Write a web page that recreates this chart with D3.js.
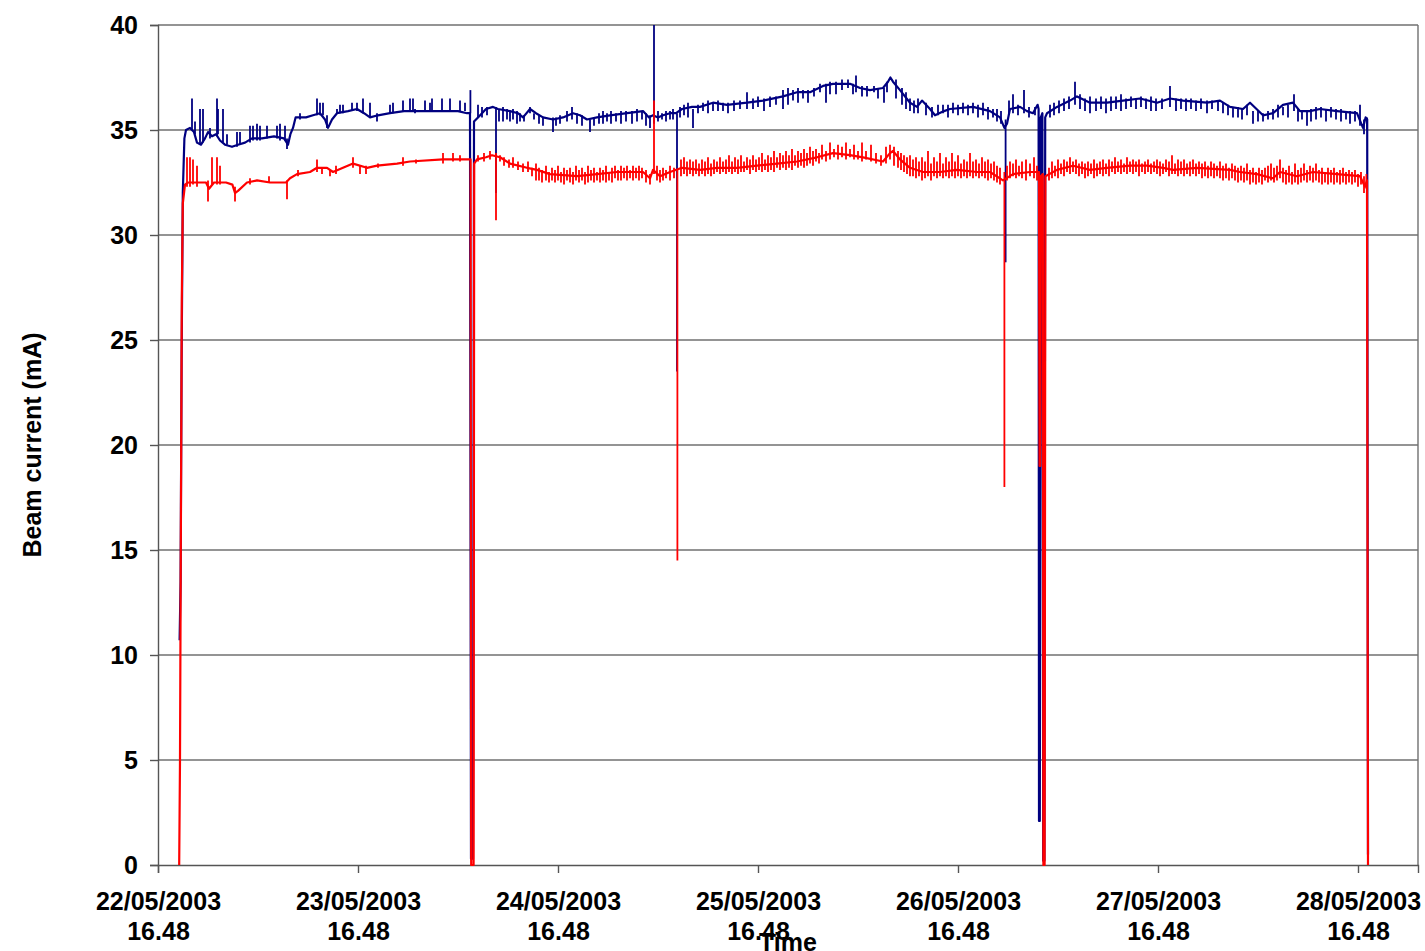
<!DOCTYPE html>
<html>
<head>
<meta charset="utf-8">
<script src="https://cdn.jsdelivr.net/npm/d3@7"></script>
<style>
  html, body { margin: 0; padding: 0; background: #fff; }
  svg text { font-family: "Liberation Sans", Arial, sans-serif; font-weight: bold; fill: #000; }
</style>
</head>
<body>
<svg id="chart" width="1425" height="951"></svg>
<script>
// Time origin of the run: 22/05/2003 16.48 (times below are elapsed days)
const runStart = Date.UTC(2003, 4, 22, 16, 48);
const runEnd = Date.UTC(2003, 4, 29, 0, 0);

const dayTicks = [0, 1, 2, 3, 4, 5, 6];
const currentTicks = [0, 5, 10, 15, 20, 25, 30, 35, 40];

// Blue trace: [elapsed day, current mA]
const blueBase = [
  [0.108,10.7],[0.113,13.5],[0.118,24],[0.124,32],[0.132,34.6],[0.140,35.0],[0.160,35.1],[0.180,34.9],
  [0.195,34.4],[0.215,34.3],[0.235,34.6],[0.250,34.9],[0.270,34.7],[0.290,34.8],[0.310,34.5],[0.335,34.3],
  [0.370,34.2],[0.400,34.3],[0.435,34.4],[0.470,34.6],[0.520,34.6],[0.580,34.7],[0.630,34.6],[0.650,34.3],
  [0.662,34.8],[0.675,35.1],[0.688,35.6],[0.740,35.6],[0.775,35.7],[0.810,35.8],[0.835,35.5],[0.850,35.1],
  [0.870,35.5],[0.895,35.8],[0.950,35.9],[0.995,36.0],[1.030,35.8],[1.060,35.6],[1.100,35.7],[1.160,35.8],
  [1.230,35.9],[1.320,35.9],[1.420,35.9],[1.500,35.9],[1.545,35.8],[1.560,35.8],[1.565,0.3],[1.575,0.3],
  [1.580,35.4],[1.600,35.6],[1.640,36.0],[1.675,36.1],[1.700,36.0],[1.760,35.9],[1.800,35.8],[1.825,35.6],
  [1.860,36.0],[1.890,35.8],[1.925,35.6],[1.975,35.5],[2.025,35.6],[2.075,35.8],[2.110,35.7],[2.145,35.5],
  [2.195,35.6],[2.260,35.7],[2.345,35.8],[2.425,35.9],[2.455,35.6],[2.475,35.7],[2.500,35.6],[2.525,35.7],
  [2.560,35.8],[2.590,35.8],[2.620,36.0],[2.670,36.1],[2.710,36.1],[2.775,36.3],[2.845,36.2],[2.945,36.3],
  [3.025,36.4],[3.125,36.6],[3.195,36.8],[3.260,36.8],[3.325,37.1],[3.375,37.2],[3.460,37.2],[3.510,37.0],
  [3.560,36.9],[3.625,37.0],[3.650,37.3],[3.662,37.5],[3.675,37.3],[3.710,36.9],[3.760,36.3],[3.795,36.1],
  [3.820,36.4],[3.860,36.0],[3.885,35.7],[3.930,35.9],[3.960,36.0],[4.075,36.1],[4.160,35.9],[4.210,35.6],
  [4.232,35.1],[4.245,35.3],[4.260,36.0],[4.310,36.1],[4.345,35.9],[4.375,35.8],[4.398,36.2],[4.403,36.0],
  [4.405,2.1],[4.409,2.1],[4.414,35.6],[4.422,35.8],[4.426,0.2],[4.432,0.2],[4.436,35.6],[4.445,35.8],
  [4.495,36.1],[4.560,36.4],[4.595,36.6],[4.660,36.3],[4.745,36.3],[4.825,36.4],[4.910,36.5],[4.995,36.3],
  [5.060,36.5],[5.125,36.4],[5.245,36.3],[5.310,36.4],[5.360,36.1],[5.425,36.0],[5.460,36.3],[5.525,35.7],
  [5.575,35.8],[5.625,36.2],[5.675,36.3],[5.710,35.9],[5.760,35.9],[5.810,36.0],[5.895,35.9],[5.995,35.8],
  [6.025,35.1],[6.038,35.6],[6.046,35.5],[6.050,0.5]
];

// Blue short excursions: [elapsed day, min mA, max mA]
const blueSpikes = [
  [0.170,35.0,36.5],[0.185,34.8,35.4],[0.210,34.3,36.0],[0.225,34.4,36.0],[0.260,34.6,35.1],[0.295,34.7,36.5],
  [0.300,34.8,36.0],[0.325,34.4,36.0],[0.345,34.3,34.8],[0.395,34.2,34.9],[0.410,34.3,34.9],[0.460,34.4,35.2],
  [0.475,34.5,35.2],[0.495,34.5,35.3],[0.510,34.5,35.2],[0.545,34.6,35.2],[0.595,34.6,35.2],[0.610,34.5,35.3],
  [0.635,34.5,35.2],[0.645,34.1,34.6],[0.710,35.5,35.8],[0.795,35.7,36.5],[0.810,35.7,36.3],[0.825,35.7,36.3],
  [0.845,35.1,35.7],[0.895,35.8,36.0],[0.910,35.8,36.2],[0.925,35.8,36.2],[0.970,35.9,36.3],[0.995,35.9,36.3],
  [1.025,35.8,36.5],[1.060,35.6,36.3],[1.095,35.4,35.8],[1.160,35.8,36.2],[1.175,35.8,36.3],[1.225,35.9,36.4],
  [1.260,35.9,36.5],[1.275,35.9,36.5],[1.285,35.8,36.0],[1.335,35.9,36.4],[1.360,35.9,36.3],[1.370,35.9,36.5],
  [1.420,35.9,36.5],[1.460,35.9,36.5],[1.510,35.9,36.4],[1.535,35.9,36.3],[1.562,35.8,36.9],
  [1.600,35.6,36.2],[1.620,35.6,36.1],[1.645,35.7,36.1],[1.690,32.0,36.1],[1.705,35.4,36.0],[1.725,35.4,36.1],
  [1.745,35.5,36.0],[1.760,35.4,35.9],[1.775,35.5,36.0],[1.795,35.3,35.9],[1.810,35.4,35.8],[1.830,35.4,35.7],
  [1.860,35.8,36.1],[1.880,35.5,35.8],[1.905,35.3,35.7],[1.925,35.2,35.6],[1.975,34.9,35.6],[1.990,35.2,35.6],
  [2.010,35.3,35.7],[2.045,35.4,35.9],[2.070,35.5,36.1],[2.095,35.3,35.8],[2.120,35.2,35.7],[2.160,34.9,35.5],
  [2.180,35.2,35.6],[2.205,35.3,35.8],[2.225,35.3,35.9],[2.245,35.4,35.8],[2.265,35.3,35.9],[2.290,35.4,35.8],
  [2.315,35.3,35.9],[2.340,35.4,35.9],[2.370,35.3,35.9],[2.395,35.4,36.0],[2.420,35.5,35.9],[2.440,35.2,35.8],
  [2.460,35.1,35.7],[2.480,35.3,40.0],[2.500,35.4,35.9],[2.520,35.5,35.8],[2.540,35.4,35.9],[2.560,35.5,35.9],
  [2.575,35.5,36.0],[2.595,23.5,35.8],[2.610,35.6,36.1],[2.630,35.7,36.2],[2.650,35.6,36.3],[2.675,35.1,36.0],
  [2.700,35.8,36.2],[2.725,35.9,36.3],[2.750,35.8,36.4],[2.775,35.9,36.3],[2.800,35.9,36.4],[2.825,35.9,36.3],
  [2.850,35.8,36.3],[2.880,35.9,36.4],[2.910,36.0,36.4],[2.945,36.0,36.8],[2.975,36.0,36.5],[3.000,36.1,36.6],
  [3.030,35.9,36.5],[3.060,36.1,36.6],[3.090,36.2,36.6],[3.125,36.0,36.9],[3.150,36.2,37.0],[3.175,36.4,36.9],
  [3.200,36.3,37.0],[3.225,36.5,36.9],[3.250,36.3,36.9],[3.280,36.6,37.0],[3.310,36.8,37.2],[3.340,36.3,37.2],
  [3.360,36.7,37.3],[3.390,36.7,37.3],[3.420,36.9,37.4],[3.450,37.0,37.4],[3.475,36.7,37.2],[3.490,36.8,37.6],
  [3.520,36.6,37.1],[3.545,36.6,37.1],[3.580,36.8,37.1],[3.600,36.5,37.0],[3.630,36.3,37.0],[3.645,36.8,37.3],
  [3.690,36.5,37.4],[3.720,36.2,37.0],[3.740,36.0,36.8],[3.760,35.9,36.5],[3.780,35.8,36.4],[3.800,35.8,36.5],
  [3.840,35.7,36.3],[3.870,35.6,36.1],[3.900,35.7,36.2],[3.925,35.8,36.2],[3.950,35.6,36.2],[3.975,35.8,36.3],
  [4.000,35.7,36.2],[4.025,35.8,36.3],[4.050,35.7,36.2],[4.075,35.8,36.3],[4.100,35.6,36.2],[4.125,35.7,36.3],
  [4.150,35.5,36.1],[4.175,35.6,36.0],[4.195,35.4,36.0],[4.215,35.3,35.9],[4.238,28.7,35.5],[4.255,35.8,36.4],
  [4.275,35.8,36.7],[4.300,35.7,36.2],[4.330,35.8,36.9],[4.355,35.6,36.1],[4.385,35.7,36.1],
  [4.460,35.6,36.2],[4.480,35.7,36.3],[4.505,35.8,36.4],[4.530,35.9,36.5],[4.555,36.0,36.6],[4.585,36.2,37.3],
  [4.610,36.0,36.7],[4.635,35.9,36.5],[4.660,35.8,36.6],[4.690,35.9,36.5],[4.715,36.0,36.6],[4.740,35.8,36.5],
  [4.765,35.9,36.6],[4.790,36.0,36.6],[4.815,35.9,36.7],[4.840,36.0,36.5],[4.865,36.1,36.6],[4.890,36.0,36.5],
  [4.915,36.1,36.6],[4.940,36.0,36.5],[4.965,35.9,36.6],[4.990,35.9,36.5],[5.020,36.0,36.5],[5.060,36.1,37.1],
  [5.090,35.9,36.5],[5.115,36.0,36.5],[5.140,35.9,36.5],[5.165,36.0,36.5],[5.190,35.9,36.4],[5.215,36.0,36.5],
  [5.245,35.8,36.4],[5.270,36.0,36.4],[5.300,35.9,36.4],[5.325,35.8,36.3],[5.350,35.7,36.2],[5.375,35.6,36.1],
  [5.400,35.6,36.1],[5.420,35.5,36.0],[5.445,35.7,36.2],[5.475,35.3,35.9],[5.500,35.4,35.9],[5.525,35.4,35.8],
  [5.550,35.5,35.9],[5.575,35.5,36.0],[5.600,35.6,36.2],[5.625,35.7,36.1],[5.650,35.6,36.2],[5.680,35.9,36.7],
  [5.700,35.4,36.0],[5.720,35.5,35.9],[5.745,35.2,35.9],[5.765,35.4,36.0],[5.790,35.5,36.1],[5.815,35.6,36.1],
  [5.840,35.4,36.0],[5.865,35.6,36.1],[5.890,35.5,36.0],[5.915,35.4,36.0],[5.940,35.5,35.9],[5.960,35.3,35.9],
  [5.985,35.4,35.9],[6.010,35.2,36.2],[6.030,34.8,35.5],[6.045,35.0,35.6]
];

// Red trace: [elapsed day, current mA]
const redBase = [
  [0.106,0],[0.110,5],[0.114,15],[0.119,27],[0.124,31.5],[0.135,32.4],[0.150,32.5],[0.200,32.5],
  [0.240,32.5],[0.255,32.2],[0.280,32.5],[0.340,32.5],[0.372,32.4],[0.385,32.0],[0.400,32.1],[0.445,32.5],
  [0.495,32.6],[0.560,32.5],[0.595,32.5],[0.640,32.5],[0.660,32.7],[0.695,32.9],[0.760,33.0],[0.795,33.2],
  [0.845,33.2],[0.875,33.0],[0.925,33.2],[0.975,33.4],[1.045,33.2],[1.095,33.3],[1.195,33.4],[1.260,33.5],
  [1.425,33.6],[1.563,33.6],[1.566,0],[1.578,0],[1.581,33.4],[1.595,33.6],[1.640,33.7],[1.670,33.8],
  [1.710,33.7],[1.760,33.4],[1.845,33.2],[1.895,33.1],[1.960,32.9],[2.095,32.8],[2.195,32.9],[2.295,33.0],
  [2.425,33.0],[2.460,32.7],[2.475,33.1],[2.510,32.8],[2.560,33.0],[2.620,33.2],[2.710,33.1],[2.795,33.2],
  [2.895,33.2],[2.995,33.3],[3.095,33.4],[3.195,33.5],[3.295,33.7],[3.375,33.9],[3.460,33.8],[3.525,33.7],
  [3.625,33.5],[3.660,33.9],[3.675,34.0],[3.710,33.6],[3.760,33.2],[3.825,33.0],[3.910,33.0],[3.995,33.1],
  [4.095,33.0],[4.160,33.0],[4.225,32.6],[4.275,32.9],[4.360,33.0],[4.405,33.0],[4.408,19.0],[4.411,19.0],
  [4.414,32.8],[4.424,32.9],[4.427,0],[4.433,0],[4.437,32.8],[4.495,33.1],[4.575,33.3],[4.660,33.1],
  [4.745,33.2],[4.860,33.3],[4.945,33.3],[5.025,33.2],[5.075,33.1],[5.195,33.2],[5.360,33.1],[5.410,33.0],
  [5.495,32.9],[5.575,32.7],[5.610,33.0],[5.695,32.8],[5.775,33.0],[5.895,32.9],[6.010,32.8],[6.035,32.3],
  [6.045,32.6],[6.050,0]
];

// Red short excursions: [elapsed day, min mA, max mA]
const redSpikes = [
  [0.145,32.3,33.7],[0.160,32.3,33.7],[0.175,32.4,33.6],[0.195,32.3,33.3],[0.250,31.6,32.6],[0.270,32.4,33.7],
  [0.295,32.4,33.7],[0.310,32.4,33.3],[0.385,31.6,32.3],[0.460,32.4,32.7],[0.555,32.5,32.8],[0.645,31.7,32.6],
  [0.700,32.8,33.1],[0.795,33.0,33.6],[0.820,32.9,33.2],[0.860,32.8,33.1],[0.890,32.9,33.3],[0.975,33.2,33.7],
  [1.010,32.9,33.3],[1.040,32.9,33.3],[1.100,33.2,33.4],[1.225,33.3,33.7],[1.290,33.4,33.6],[1.425,33.4,33.9],
  [1.475,33.5,33.9],[1.510,33.5,33.8],
  [1.600,33.5,33.8],[1.630,33.5,33.9],[1.660,33.6,34.0],[1.690,30.7,33.9],[1.710,33.5,33.8],[1.730,33.3,33.7],
  [1.755,33.2,33.6],[1.775,33.2,33.7],[1.800,33.1,33.5],[1.825,33.0,33.4],[1.850,33.0,33.5],[1.870,32.8,33.2],
  [1.890,32.6,33.4],[1.905,32.6,33.2],[1.920,32.5,33.1],[1.940,32.6,33.3],[1.955,32.5,33.0],[1.970,32.6,33.2],
  [1.985,32.5,33.1],[2.000,32.6,33.3],[2.015,32.5,33.0],[2.030,32.4,33.2],[2.045,32.6,33.1],[2.060,32.5,33.2],
  [2.075,32.4,33.0],[2.090,32.6,33.3],[2.105,32.5,33.1],[2.120,32.6,33.2],[2.135,32.4,33.0],[2.150,32.5,33.3],
  [2.165,32.6,33.1],[2.180,32.5,33.2],[2.195,32.6,33.0],[2.210,32.5,33.2],[2.225,32.6,33.1],[2.240,32.5,33.3],
  [2.255,32.6,33.0],[2.270,32.5,33.2],[2.285,32.7,33.3],[2.300,32.6,33.1],[2.315,32.6,33.3],[2.330,32.7,33.2],
  [2.345,32.6,33.3],[2.360,32.7,33.1],[2.375,32.6,33.3],[2.390,32.7,33.2],[2.405,32.6,33.3],[2.420,32.7,33.2],
  [2.440,32.5,33.1],[2.460,32.4,32.9],[2.480,32.9,36.4],[2.495,32.6,33.3],[2.510,32.5,33.1],[2.525,32.6,33.2],
  [2.540,32.7,33.1],[2.560,32.6,33.3],[2.580,32.7,33.2],[2.597,14.5,33.1],[2.615,32.8,33.6],[2.630,32.9,33.7],
  [2.645,32.8,33.5],[2.660,32.9,33.6],[2.675,32.8,33.5],[2.690,32.9,33.6],[2.705,32.8,33.4],[2.720,32.9,33.6],
  [2.735,32.8,33.5],[2.750,32.9,33.7],[2.765,32.8,33.4],[2.780,32.9,33.6],[2.795,33.0,33.5],[2.810,32.9,33.7],
  [2.825,33.0,33.5],[2.840,32.9,33.6],[2.855,33.0,33.8],[2.870,32.9,33.5],[2.885,33.0,33.7],[2.900,32.9,33.6],
  [2.915,33.0,33.8],[2.930,33.0,33.5],[2.945,33.1,33.7],[2.960,32.9,33.6],[2.975,33.1,33.8],[2.990,33.0,33.6],
  [3.005,33.1,33.7],[3.020,33.0,33.9],[3.035,33.1,33.6],[3.050,33.0,33.8],[3.065,33.1,33.7],[3.080,33.0,34.0],
  [3.095,33.2,33.7],[3.110,33.1,33.9],[3.125,33.2,33.8],[3.140,33.1,34.0],[3.155,33.2,33.8],[3.170,33.1,34.1],
  [3.185,33.3,33.8],[3.200,33.2,34.0],[3.215,33.3,33.9],[3.230,33.2,34.1],[3.245,33.3,33.9],[3.260,33.4,34.2],
  [3.275,33.3,34.0],[3.290,33.5,34.1],[3.305,33.4,33.9],[3.320,33.6,34.3],[3.340,33.5,34.0],[3.360,33.6,34.4],
  [3.380,33.7,34.1],[3.400,33.6,34.3],[3.420,33.7,34.2],[3.440,33.6,34.4],[3.460,33.7,34.1],[3.480,33.6,34.3],
  [3.500,33.6,34.0],[3.520,33.5,34.4],[3.540,33.6,34.0],[3.565,33.5,34.3],[3.590,33.4,33.9],[3.615,33.3,33.8],
  [3.640,33.4,34.2],[3.660,33.6,34.3],[3.680,33.3,34.2],[3.700,33.2,34.0],[3.715,33.1,33.9],[3.730,33.0,33.8],
  [3.745,32.9,33.7],[3.760,32.8,33.8],[3.775,32.8,33.6],[3.790,32.7,33.7],[3.805,32.8,33.5],[3.820,32.6,33.7],
  [3.835,32.7,33.5],[3.850,32.8,34.0],[3.865,32.6,33.4],[3.880,32.8,33.7],[3.895,32.7,33.5],[3.910,32.8,33.9],
  [3.925,32.7,33.4],[3.940,32.8,33.7],[3.955,32.7,33.5],[3.970,32.8,33.9],[3.985,32.7,33.5],[4.000,32.8,33.8],
  [4.015,32.7,33.4],[4.030,32.8,33.6],[4.045,32.7,33.5],[4.060,32.8,33.9],[4.075,32.7,33.5],[4.090,32.8,33.6],
  [4.105,32.7,33.4],[4.120,32.8,33.7],[4.135,32.7,33.5],[4.150,32.6,33.6],[4.165,32.7,33.4],[4.180,32.6,33.5],
  [4.195,32.5,33.3],[4.210,32.4,33.2],[4.232,18.0,33.0],[4.245,32.6,33.3],[4.260,32.7,33.5],[4.275,32.8,33.4],
  [4.290,32.7,33.6],[4.305,32.8,33.3],[4.320,32.7,33.5],[4.340,32.6,33.6],[4.360,32.8,33.4],[4.380,32.7,33.7],
  [4.395,32.6,33.3],
  [4.455,32.6,33.2],[4.470,32.7,33.5],[4.485,32.8,33.3],[4.500,32.7,33.6],[4.515,32.9,33.4],[4.530,32.8,33.6],
  [4.545,33.0,33.5],[4.560,32.9,33.7],[4.575,33.0,33.5],[4.590,32.9,33.6],[4.605,32.8,33.4],[4.620,32.9,33.5],
  [4.635,32.7,33.4],[4.650,32.8,33.5],[4.665,32.9,33.4],[4.680,32.7,33.6],[4.695,32.8,33.4],[4.710,32.9,33.5],
  [4.725,32.8,33.6],[4.740,32.9,33.4],[4.755,32.8,33.6],[4.770,33.0,33.5],[4.785,32.9,33.7],[4.800,33.0,33.5],
  [4.815,32.9,33.6],[4.830,33.0,33.4],[4.845,32.9,33.7],[4.860,33.0,33.5],[4.875,32.9,33.6],[4.890,33.0,33.5],
  [4.905,32.8,33.6],[4.920,33.0,33.4],[4.935,32.9,33.5],[4.950,33.0,33.6],[4.965,32.9,33.4],[4.980,33.0,33.5],
  [4.995,32.9,33.6],[5.010,32.8,33.5],[5.025,32.9,33.4],[5.040,33.0,33.6],[5.055,32.8,33.5],[5.070,32.9,33.8],
  [5.085,32.9,33.4],[5.100,32.8,33.6],[5.115,32.9,33.5],[5.130,32.8,33.6],[5.145,32.9,33.4],[5.160,32.8,33.5],
  [5.175,32.9,33.6],[5.190,32.8,33.4],[5.205,32.9,33.5],[5.220,32.7,33.4],[5.235,32.8,33.5],[5.250,32.7,33.3],
  [5.265,32.8,33.5],[5.280,32.7,33.4],[5.295,32.8,33.3],[5.310,32.7,33.5],[5.325,32.6,33.3],[5.340,32.7,33.4],
  [5.355,32.6,33.2],[5.370,32.7,33.4],[5.385,32.6,33.3],[5.400,32.5,33.2],[5.415,32.6,33.3],[5.430,32.5,33.2],
  [5.445,32.6,33.4],[5.460,32.4,33.1],[5.475,32.5,33.2],[5.490,32.4,33.0],[5.505,32.5,33.2],[5.520,32.4,33.1],
  [5.535,32.6,33.2],[5.550,32.5,33.3],[5.565,32.6,33.4],[5.580,32.5,33.2],[5.595,32.6,33.3],[5.610,32.7,33.6],
  [5.625,32.5,33.2],[5.640,32.4,33.1],[5.655,32.5,33.3],[5.670,32.4,33.0],[5.685,32.5,33.4],[5.700,32.4,33.1],
  [5.715,32.5,33.2],[5.730,32.6,33.4],[5.745,32.5,33.1],[5.760,32.6,33.3],[5.775,32.5,33.2],[5.790,32.6,33.4],
  [5.805,32.5,33.1],[5.820,32.4,33.2],[5.835,32.5,33.0],[5.850,32.4,33.2],[5.865,32.5,33.1],[5.880,32.4,33.2],
  [5.895,32.5,33.0],[5.910,32.4,33.1],[5.925,32.5,33.2],[5.940,32.4,33.0],[5.955,32.5,33.1],[5.970,32.4,33.0],
  [5.985,32.5,33.1],[6.000,32.3,32.9],[6.015,32.4,33.0],[6.030,32.0,32.8],[6.042,32.2,32.9]
];

const toDate = d => new Date(runStart + d * 864e5);

const svg = d3.select("#chart");
const plot = { left: 158, right: 1418, top: 25, bottom: 865 };
const fontSize = "25px";

const x = d3.scaleUtc()
  .domain([new Date(runStart), new Date(runEnd)])
  .range([plot.left, plot.right]);
const y = d3.scaleLinear().domain([0, 40]).range([plot.bottom, plot.top]);

const gridColor = "#707070";
const axisColor = "#555";

// Horizontal gridlines
svg.append("g")
  .selectAll("line")
  .data(currentTicks.filter(v => v > 0))
  .join("line")
  .attr("x1", plot.left).attr("x2", plot.right)
  .attr("y1", d => y(d)).attr("y2", d => y(d))
  .attr("stroke", gridColor).attr("stroke-width", 1.4);

// Right edge of plot area
svg.append("line")
  .attr("x1", plot.right).attr("x2", plot.right)
  .attr("y1", plot.top).attr("y2", plot.bottom)
  .attr("stroke", gridColor).attr("stroke-width", 1.4);

// Y axis
const yAxis = d3.axisLeft(y).tickValues(currentTicks).tickSize(8).tickPadding(12);
const gy = svg.append("g").attr("transform", `translate(${plot.left},0)`).call(yAxis);
gy.select(".domain").attr("stroke", axisColor).attr("stroke-width", 1.4);
gy.selectAll(".tick line").attr("stroke", axisColor).attr("stroke-width", 1.4);
gy.selectAll(".tick text")
  .style("font-size", fontSize)
  .style("font-family", '"Liberation Sans", Arial, sans-serif')
  .style("font-weight", "bold")
  .attr("fill", "#000");

// X axis with two-line labels
const fmtDate = d3.utcFormat("%d/%m/%Y");
const fmtTime = d3.utcFormat("%H.%M");
const xAxis = d3.axisBottom(x).tickValues(dayTicks.map(toDate)).tickSize(8).tickFormat("");
const gx = svg.append("g").attr("transform", `translate(0,${plot.bottom})`).call(xAxis);
gx.select(".domain").attr("stroke", axisColor).attr("stroke-width", 1.4);
gx.selectAll(".tick line").attr("stroke", axisColor).attr("stroke-width", 1.4);
gx.selectAll(".tick").each(function (d) {
  const t = d3.select(this).append("text")
    .attr("text-anchor", "middle")
    .style("font-size", fontSize)
    .attr("fill", "#000");
  t.append("tspan").attr("x", 0).attr("y", 45).text(fmtDate(d));
  t.append("tspan").attr("x", 0).attr("y", 75).text(fmtTime(d));
});

// Traces
const line = d3.line().x(p => x(toDate(p[0]))).y(p => y(p[1]));

function drawTrace(base, spikes, color) {
  const g = svg.append("g");
  g.append("path")
    .datum(base)
    .attr("d", line)
    .attr("fill", "none")
    .attr("stroke", color)
    .attr("stroke-width", 2.2)
    .attr("stroke-linejoin", "round");
  g.selectAll("line")
    .data(spikes)
    .join("line")
    .attr("x1", s => x(toDate(s[0]))).attr("x2", s => x(toDate(s[0])))
    .attr("y1", s => y(s[1])).attr("y2", s => y(s[2]))
    .attr("stroke", color)
    .attr("stroke-width", 1.8);
}

drawTrace(blueBase, blueSpikes, "#000080");
drawTrace(redBase, redSpikes, "#ff0000");

// Axis titles
svg.append("text")
  .attr("x", 788).attr("y", 951)
  .attr("text-anchor", "middle")
  .style("font-size", fontSize)
  .text("Time");

svg.append("text")
  .attr("transform", "translate(41,445) rotate(-90)")
  .attr("text-anchor", "middle")
  .style("font-size", fontSize)
  .text("Beam current (mA)");
</script>
</body>
</html>
